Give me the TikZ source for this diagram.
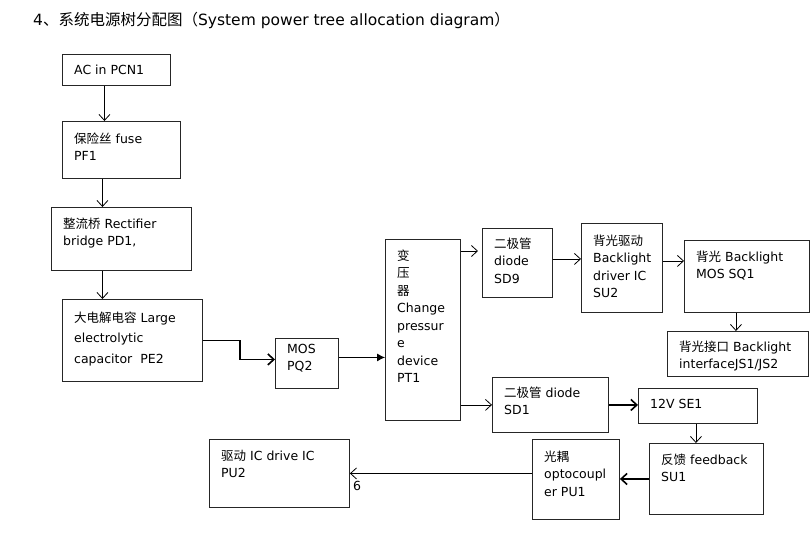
\documentclass[tikz,border=0pt]{standalone}
\usepackage{fontspec}
\setmainfont{DejaVu Sans}
\newfontfamily\cjk{Noto Sans CJK SC}
\usepackage{tikz}
\usetikzlibrary{arrows.meta}
\usetikzlibrary{positioning}
\usetikzlibrary{calc}
\newcommand{\zh}[1]{{\cjk #1}}
\newcommand{\bnode}[7][15]{\node(#2)[box, minimum width=#5, minimum height=#6] at (#3,#4) {};
  \node(#2t)[txt] at ([shift={(12,#1-8)}]#2.north west) {\rule{0pt}{13pt}#7}}

\begin{document}
\begin{tikzpicture}[
        x=1pt, y=-1pt,
        >={Straight Barb[length=6pt,width=11pt]},
        box/.style={rectangle, draw=black!85, line width=0.9pt, inner sep=0, anchor=north west},
        txt/.style={inner sep=0, anchor=north west, align=left, font=\fontsize{12.5}{17.5}\selectfont},
        line/.style={line width=0.8pt, ->},
        bold/.style={line width=1.6pt, -{Straight Barb[length=6pt,width=11pt]}}
      ]
      \useasboundingbox (0,0) rectangle (811,547);

      \node(title)[anchor=west, inner sep=0, font=\fontsize{15.5}{18}\selectfont] at (33,20)
        {4\zh{、系统电源树分配图（}System power tree allocation diagram\zh{）}};

      % left column
      \bnode{ac}{62}{54}{108}{31}{AC in PCN1};
      \bnode[17]{fuse}{62}{121}{118}{57}{\zh{保险丝} fuse\\PF1};
      \bnode[16]{rect}{51}{207}{140}{63}{\zh{整流桥} Rectifier\\bridge PD1,};
      \bnode[18]{cap}{62}{299}{140}{82}{\zh{大电解电容} Large\\[3pt]electrolytic\\[3pt]capacitor\ \ PE2};
      \bnode[10]{mos}{275}{338}{63}{50}{MOS\\PQ2};
      \bnode[16]{trans}{385}{239}{75}{181}{\zh{变}\\\zh{压}\\\zh{器}\\Change\\pressur\\e\\device\\PT1};

      % backlight branch
      \bnode{sd9}{482}{228}{70}{69}{\zh{二极管}\\diode\\SD9};
      \bnode[17]{drv}{581}{223}{81}{89}{\zh{背光驱动}\\Backlight\\driver IC\\SU2};
      \bnode[16]{sq1}{684}{240}{125}{72}{\zh{背光} Backlight\\MOS SQ1};
      \bnode{js}{667}{331}{141}{45}{\zh{背光接口} Backlight\\interfaceJS1/JS2};

      % 12V branch and feedback
      \bnode{sd1}{492}{377}{116}{55}{\zh{二极管} diode\\SD1};
      \bnode{se1}{638}{388}{119}{35}{12V SE1};
      \bnode[16]{su1}{649}{443}{114}{71}{\zh{反馈} feedback\\SU1};
      \bnode[17]{pu1}{532}{439}{87}{80}{\zh{光耦}\\optocoupl\\er PU1};
      \bnode[16]{pu2}{209}{439}{140}{68}{\zh{驱动} IC drive IC\\PU2};
      \node(six)[txt] at ([shift={(3,8)}]pu2.east) {6};

      \draw[line] ([xshift=-12pt]ac.south) -- ([xshift=-12pt]ac.south |- fuse.north);
      \draw[line] ([xshift=-19pt]fuse.south) -- ([xshift=-19pt]fuse.south |- rect.north);
      \draw[line] ([xshift=-19pt]rect.south) -- ([xshift=-19pt]rect.south |- cap.north);
      \draw[bold] (cap.east) -- ++(37,0) |- ([yshift=4pt]mos.west);
      \draw[line, -{Latex[length=8pt,width=8pt]}] ([yshift=6pt]mos.east) -- ([yshift=6pt]mos.east -| trans.west);
      \draw[line] ([yshift=-12pt]trans.north east) -- ([yshift=-12pt,xshift=-4pt]trans.north east -| sd9.west);
      \draw[line] ([yshift=16pt]trans.south east) -- ([yshift=16pt]trans.south east -| sd1.west);
      \draw[line] ([yshift=4pt]sd9.east) -- ([yshift=4pt]sd9.east -| drv.west);
      \draw[line] ([yshift=7pt]drv.east) -- ([yshift=7pt]drv.east -| sq1.west);
      \draw[line] ([xshift=-11pt]sq1.south) -- ([xshift=-11pt]sq1.south |- js.north);
      \draw[bold] (sd1.east) -- (sd1.east -| se1.west);
      \draw[line] ([xshift=-2pt]se1.south) -- ([xshift=-2pt]se1.south |- su1.north);
      \draw[bold] (su1.west) -- (su1.west -| pu1.east);
      \draw[line] ([yshift=6pt]pu1.west) -- ([yshift=6pt]pu1.west -| pu2.east);
    \end{tikzpicture}
\end{document}
